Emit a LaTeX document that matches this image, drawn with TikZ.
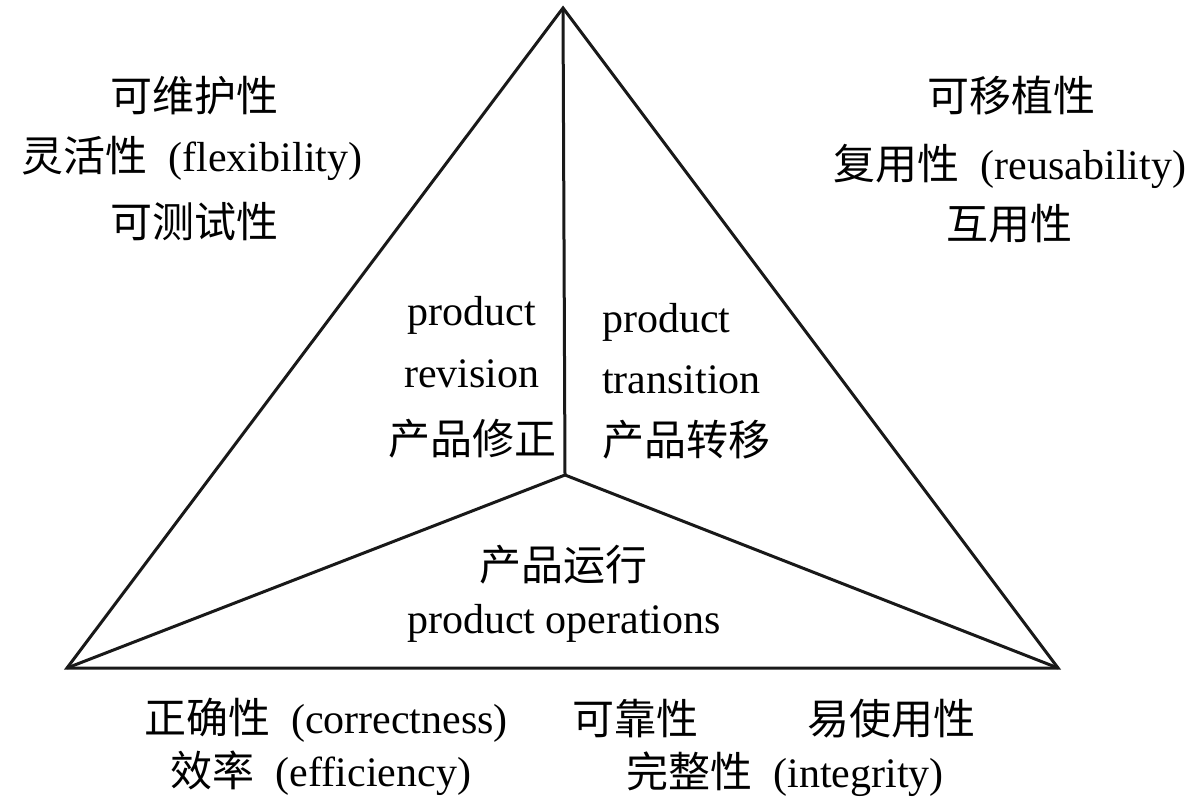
\documentclass[tikz,border=0pt]{standalone}
\usepackage{fontspec}
\setmainfont{Liberation Serif}
\newfontfamily\cjk{Noto Sans CJK SC}
\begin{document}
\begin{tikzpicture}[x=1pt,y=-1pt,
  edge/.style={line width=3pt,line join=miter,black!90},
  lbl/.style={inner sep=0pt,anchor=base,font=\fontsize{42}{50}\selectfont},
  lblw/.style={inner sep=0pt,anchor=base west,font=\fontsize{42}{50}\selectfont}]
\useasboundingbox (0,0) rectangle (1198,810);
% vertices
\coordinate (A) at (563,8);
\coordinate (BL) at (67,668);
\coordinate (BR) at (1058,668);
\coordinate (C) at (565,475);
\draw[edge] (A) -- (BL) -- (BR) -- cycle;
\draw[edge] (C) -- (A);
\draw[edge] (C) -- (BL);
\draw[edge] (C) -- (BR);
% left group
\node[lbl] (l1) at (194,112) {\cjk 可维护性};
\node[lbl] (l2) at (192,172) {{\cjk 灵活性}\hspace{0.5em}(flexibility)};
\node[lbl] (l3) at (194,237) {\cjk 可测试性};
% right group
\node[lbl] (r1) at (1011,112) {\cjk 可移植性};
\node[lbl] (r2) at (1010,180) {{\cjk 复用性}\hspace{0.5em}(reusability)};
\node[lbl] (r3) at (1009,240) {\cjk 互用性};
% product revision
\node[lbl] (pr1) at (472,325) {product};
\node[lbl] (pr2) at (472,387) {revision};
\node[lbl] (pr3) at (472,454) {\cjk 产品修正};
% product transition
\node[lblw] (pt1) at (602,332) {product};
\node[lblw] (pt2) at (602,393) {transition};
\node[lblw] (pt3) at (602,455) {\cjk 产品转移};
% product operations
\node[lbl] (po1) at (563,580) {\cjk 产品运行};
\node[lbl] (po2) at (564,633) {product operations};
% bottom
\node[lbl] (b1) at (326,733) {{\cjk 正确性}\hspace{0.5em}(correctness)};
\node[lbl] (b2) at (635,734) {\cjk 可靠性};
\node[lbl] (b3) at (891,734) {\cjk 易使用性};
\node[lbl] (b4) at (321,786) {{\cjk 效率}\hspace{0.5em}(efficiency)};
\node[lbl] (b5) at (785,787) {{\cjk 完整性}\hspace{0.5em}(integrity)};
\end{tikzpicture}
\end{document}
